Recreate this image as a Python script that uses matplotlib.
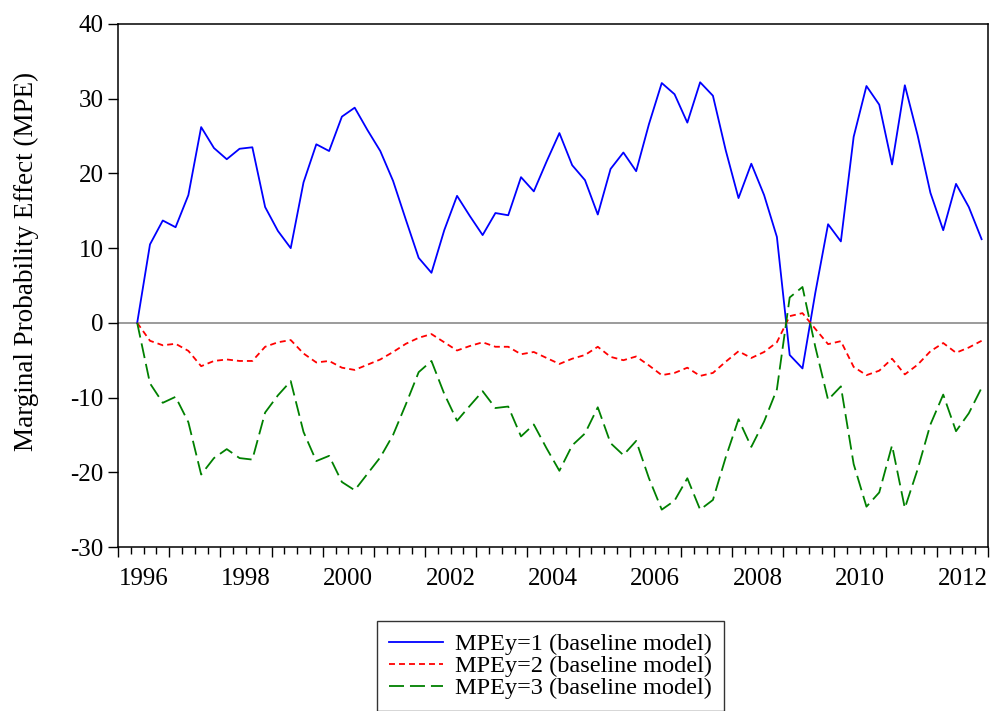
import matplotlib
matplotlib.use("Agg")
import matplotlib.pyplot as plt
import numpy as np
import pandas as pd

plt.rcParams['font.family'] = ['Liberation Serif', 'DejaVu Serif']
plt.rcParams['lines.scale_dashes'] = False

# Quarterly observations 1996Q2 .. 2012Q4
quarters = pd.period_range('1996Q2', '2012Q4', freq='Q')

mpe_y1 = [0, 10.5, 13.7, 12.8, 17.1, 26.2, 23.4, 21.9, 23.3, 23.5,
          15.5, 12.3, 10.0, 18.8, 23.9, 23.0, 27.6, 28.8, 25.8, 23.0,
          19.0, 13.8, 8.7, 6.7, 12.4, 17.0, 14.3, 11.75, 14.7, 14.4,
          19.5, 17.6, 21.6, 25.4, 21.1, 19.1, 14.5, 20.6, 22.8, 20.3,
          26.6, 32.1, 30.6, 26.8, 32.2, 30.4, 23.1, 16.7, 21.3, 17.1,
          11.5, -4.3, -6.1, 4.0, 13.2, 10.9, 24.9, 31.7, 29.2, 21.2,
          31.8, 25.1, 17.4, 12.4, 18.6, 15.5, 11.2]

mpe_y2 = [0, -2.4, -3.0, -2.8, -3.75, -5.8, -5.1, -4.9, -5.1, -5.1,
          -3.2, -2.6, -2.3, -4.1, -5.3, -5.1, -6.0, -6.3, -5.6, -4.9,
          -3.9, -2.8, -2.0, -1.5, -2.6, -3.7, -3.1, -2.6, -3.2, -3.2,
          -4.2, -3.9, -4.7, -5.5, -4.8, -4.3, -3.2, -4.55, -5.0, -4.5,
          -5.7, -7.0, -6.7, -6.0, -7.1, -6.7, -5.2, -3.8, -4.7, -3.9,
          -2.6, 0.9, 1.3, -0.8, -2.85, -2.45, -5.9, -7.0, -6.4, -4.8,
          -6.9, -5.6, -3.8, -2.7, -4.0, -3.3, -2.4]

mpe_y3 = [0, -8.1, -10.7, -9.9, -13.3, -20.3, -18.1, -16.9, -18.1, -18.3,
          -12.0, -9.7, -7.8, -14.6, -18.5, -17.8, -21.3, -22.4, -20.2, -18.0,
          -15.0, -10.9, -6.6, -5.1, -9.5, -13.1, -11.1, -9.15, -11.4, -11.2,
          -15.2, -13.6, -16.8, -19.8, -16.4, -14.8, -11.3, -16.1, -17.7, -15.8,
          -20.8, -25.0, -23.8, -20.8, -25.0, -23.7, -18.0, -12.9, -16.6, -13.2,
          -8.9, 3.4, 4.8, -3.2, -10.3, -8.5, -18.9, -24.6, -22.7, -16.4,
          -24.8, -19.6, -13.6, -9.6, -14.5, -12.1, -8.7]

series_labels = ['MPEy=1 (baseline model)', 'MPEy=2 (baseline model)',
                 'MPEy=3 (baseline model)']
year_labels = [1996, 1998, 2000, 2002, 2004, 2006, 2008, 2010, 2012]
y_ticks = [-30, -20, -10, 0, 10, 20, 30, 40]

# observation centred in its quarter
x = np.array([p.year + (p.quarter - 1) / 4 + 0.125 for p in quarters])

fig = plt.figure(figsize=(9.9, 7.11), dpi=100)
ax = fig.add_axes([118 / 990, 1 - 547 / 711, 870 / 990, 523 / 711])

ax.axhline(0, color='#808080', lw=1.1, zorder=1)
l1, = ax.plot(x, mpe_y1, color='#0000ff', lw=1.3, zorder=3)
l2, = ax.plot(x, mpe_y2, color='#ff0000', lw=1.3, zorder=3, dashes=(4.3, 2.9))
l3, = ax.plot(x, mpe_y3, color='#008000', lw=1.3, zorder=3, dashes=(10.8, 4.3))

ax.set_xlim(1996, 2013)
ax.set_ylim(-30, 40)
ax.set_yticks(y_ticks)
ax.set_yticklabels([str(v) for v in y_ticks])
ax.set_xticks(np.arange(1996, 2014))
ax.set_xticklabels([])
ax.set_xticks(np.arange(1996, 2013.01, 0.25), minor=True)
ax.tick_params(axis='x', which='major', direction='out', length=7.5, width=1.0, color='black')
ax.tick_params(axis='x', which='minor', direction='out', length=4.8, width=1.0, color='black')
ax.tick_params(axis='y', which='major', direction='out', length=7.5, width=1.0,
               color='black', labelsize=18, pad=3)
for s in ax.spines.values():
    s.set_linewidth(1.1)
    s.set_color('black')

sec = ax.secondary_xaxis('bottom')
sec.set_xticks([y + 0.5 for y in year_labels])
sec.set_xticklabels([str(y) for y in year_labels])
sec.tick_params(length=0, labelsize=18, pad=15)
sec.spines['bottom'].set_visible(False)

fig.text(26 / 990, 1 - 261 / 711, 'Marginal Probability Effect (MPE)', rotation=90,
         ha='center', va='center', fontsize=19.5)

leg = fig.legend([l1, l2, l3], series_labels, loc='upper left',
                 bbox_to_anchor=(377 / 990, 1 - 621 / 711),
                 bbox_transform=fig.transFigure, borderaxespad=0,
                 fontsize=17.5, frameon=True, fancybox=False, edgecolor='black',
                 handlelength=2.2, handletextpad=0.5, labelspacing=0.0,
                 borderpad=0.5)
leg.get_frame().set_linewidth(1.0)

fig.savefig('out.png', dpi=100)
